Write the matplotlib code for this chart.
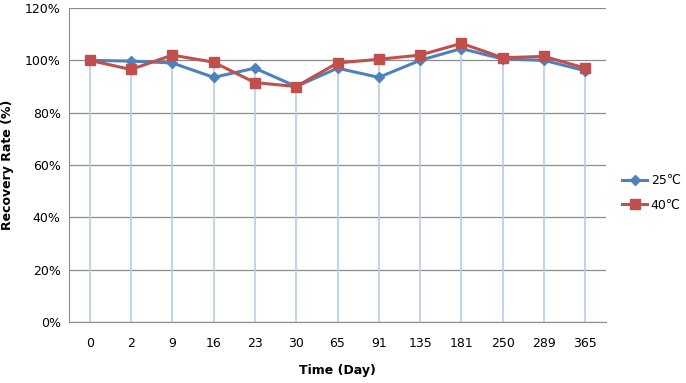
import matplotlib.pyplot as plt
from matplotlib.ticker import PercentFormatter

days = ["0", "2", "9", "16", "23", "30", "65", "91", "135", "181", "250", "289", "365"]
rate_25 = [100, 99.7, 99, 93.5, 97, 90, 97, 93.5, 100, 104.5, 100.5, 100, 96]
rate_40 = [100, 96.5, 102, 99.3, 91.5, 90, 99, 100.4, 102, 106.5, 101, 101.5, 97]

blue = "#4F81BD"
red = "#C0504D"

fig = plt.figure(figsize=(6.86, 3.83), dpi=100)
ax = fig.add_axes([69 / 686, 61 / 383, (606 - 69) / 686, (322 - 8) / 383])

x = list(range(len(days)))

# drop lines from the higher point down to the axis
tops = [max(a, b) for a, b in zip(rate_25, rate_40)]
ax.vlines(x, 0, tops, color="#B9CDE5", lw=1.2, zorder=1)

ax.plot(x, rate_25, color=blue, lw=2.2, marker="D", ms=5, label="25\u2103", zorder=3)
ax.plot(x, rate_40, color=red, lw=2.2, marker="s", ms=7, label="40\u2103", zorder=3)

ax.set_xlim(-0.5, len(days) - 0.5)
ax.set_ylim(0, 120)
ax.set_yticks(range(0, 121, 20))
ax.yaxis.set_major_formatter(PercentFormatter(decimals=0))
ax.set_xticks(x)
ax.set_xticklabels(days)
ax.grid(axis="y", color="#8C8C8C", lw=0.9)
ax.set_axisbelow(True)

for s in ["top", "right"]:
    ax.spines[s].set_visible(False)
for s in ["left", "bottom"]:
    ax.spines[s].set_color("#8C8C8C")
ax.tick_params(axis="both", length=0, labelsize=9, colors="#000000")
ax.tick_params(axis="x", pad=11)
ax.tick_params(axis="y", pad=6)

ax.set_xlabel("Time (Day)", fontsize=9, fontweight="bold", labelpad=10)
ax.set_ylabel("Recovery Rate (%)", fontsize=9, fontweight="bold", labelpad=8)

h, l = ax.get_legend_handles_labels()
fig.legend(h, l, loc="center left", bbox_to_anchor=(622 / 686, 1 - 193 / 383),
           frameon=False, fontsize=9, handlelength=2.0, handletextpad=0.3,
           labelspacing=0.9, borderpad=0, borderaxespad=0)

fig.savefig("out.png", dpi=100)
